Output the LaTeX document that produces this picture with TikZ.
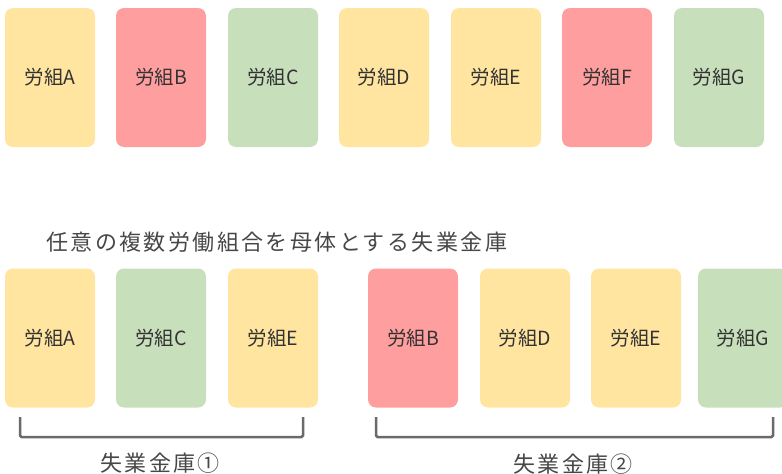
\documentclass[tikz,border=0pt]{standalone}
\usepackage{fontspec}
\setmainfont{Noto Sans CJK JP}
\definecolor{cyel}{HTML}{FFE59F}
\definecolor{cred}{HTML}{FF9E9E}
\definecolor{cgrn}{HTML}{C8DFBC}
\definecolor{ctxt}{HTML}{333333}
\definecolor{cbr}{HTML}{6A6A6A}
\begin{document}
\begin{tikzpicture}[x=1pt,y=-1pt,
  card/.style={rounded corners=8pt, minimum width=90pt, minimum height=139pt, inner sep=0pt, text=ctxt, font=\fontsize{19.5}{21}\selectfont},
  yel/.style={card, fill=cyel},
  red/.style={card, fill=cred},
  grn/.style={card, fill=cgrn},
  lbl/.style={text=ctxt!90, font=\fontsize{22}{24}\selectfont\addfontfeatures{LetterSpace=11}, inner sep=0pt},
  brk/.style={draw=cbr, line width=2.5pt, rounded corners=1.5pt}]
\useasboundingbox (0,0) rectangle (782,474);
% top row
\node[yel] (tA) at (50,77.5) {労組A};
\node[red] (tB) at (161,77.5) {労組B};
\node[grn] (tC) at (273,77.5) {労組C};
\node[yel] (tD) at (384,77.5) {労組D};
\node[yel] (tE) at (496,77.5) {労組E};
\node[red] (tF) at (607,77.5) {労組F};
\node[grn] (tG) at (719,77.5) {労組G};
% title
\node[lbl, anchor=west] (title) at (46,242) {任意の複数労働組合を母体とする失業金庫};
% bottom row
\node[yel] (bA) at (50,338) {労組A};
\node[grn] (bC) at (161,338) {労組C};
\node[yel] (bE) at (273,338) {労組E};
\node[red] (bB) at (413,338) {労組B};
\node[yel] (bD) at (525,338) {労組D};
\node[yel] (bE2) at (636,338) {労組E};
\node[grn] (bG) at (743,338) {労組G};
% brackets
\coordinate (k1a) at (20,417);
\coordinate (k1b) at (303,417);
\coordinate (k2a) at (376,417);
\coordinate (k2b) at (773,417);
\draw[brk] (k1a) -- ++(0,20) -| (k1b);
\draw[brk] (k2a) -- ++(0,20) -| (k2b);
\node[lbl] (f1) at (160,463) {失業金庫①};
\node[lbl] (f2) at (573,464) {失業金庫②};
\end{tikzpicture}
\end{document}
